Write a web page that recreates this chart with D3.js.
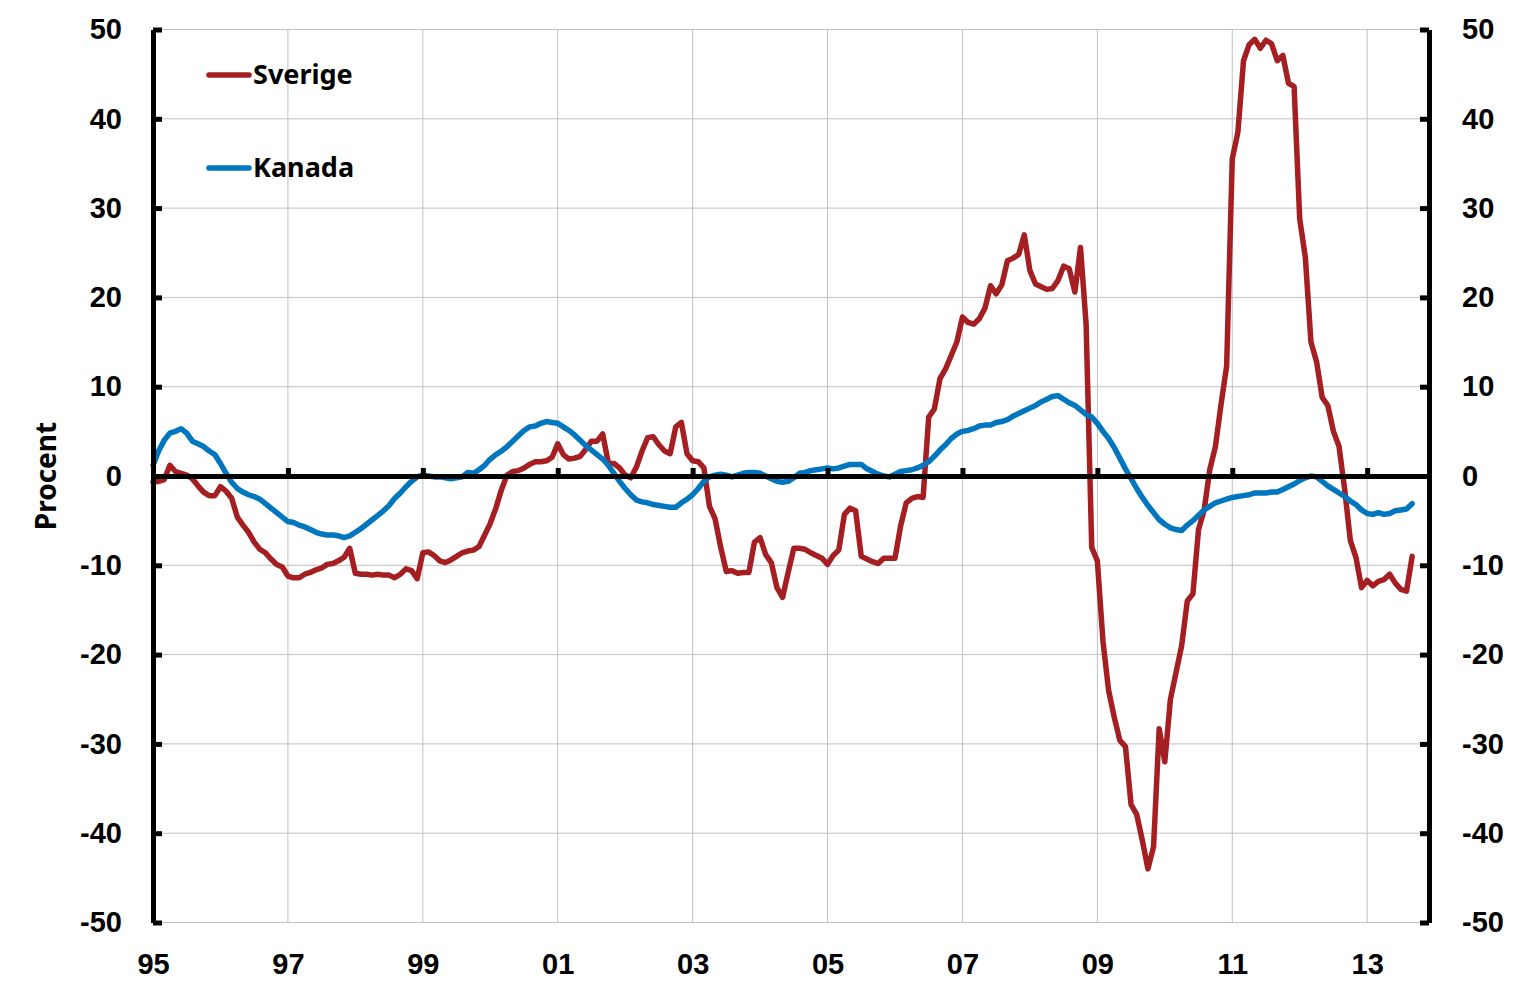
<!doctype html>
<html lang="sv">
<head>
    <meta charset="UTF-8">
    <title>Sverige och Kanada</title>
    <style>
        body { margin: 0; background: #fff; }
        svg { display: block; font-family: "Noto Sans", "Open Sans", sans-serif; font-weight: bold; }
        .grid line { stroke: #c0c0c0; stroke-width: 1px; }
        .axis path, .axis line { stroke: #000; }
        .axis text { font-size: 29px; font-weight: bold; fill: #000; }
    </style>
</head>
<body>
    <svg width="1527" height="998"></svg>
    <script src="https://cdn.jsdelivr.net/npm/d3@7"></script>
    <script>
        // månadsdata, jan 1995 - sep 2013
        const startYear = 1995;
        const totalMonths = 227;   // axeln går till nov 2013

        const sverige = [
            -0.7, -0.6, -0.4, 1.2, 0.5, 0.3, 0.1, -0.3, -1.1, -1.8, -2.2, -2.2,
            -1.2, -1.7, -2.5, -4.6, -5.5, -6.3, -7.4, -8.2, -8.6, -9.3, -9.9, -10.2,
            -11.2, -11.4, -11.4, -11.0, -10.8, -10.5, -10.3, -9.9, -9.8, -9.5, -9.1, -8.1,
            -10.9, -11.0, -11.0, -11.1, -11.0, -11.1, -11.1, -11.4, -11.0, -10.4, -10.6, -11.5,
            -8.6, -8.5, -8.9, -9.5, -9.7, -9.4, -9.0, -8.6, -8.4, -8.3, -7.9, -6.6,
            -5.3, -3.6, -1.5, 0.1, 0.5, 0.6, 0.9, 1.3, 1.6, 1.6, 1.7, 2.1,
            3.6, 2.4, 1.9, 2.0, 2.2, 3.0, 3.9, 3.9, 4.7, 1.5, 1.4, 0.9,
            0.1, -0.2, 1.0, 2.8, 4.3, 4.4, 3.5, 2.8, 2.5, 5.5, 6.0, 2.5,
            1.7, 1.6, 0.9, -3.4, -4.8, -8.0, -10.7, -10.6, -10.9, -10.8, -10.8, -7.4,
            -6.9, -8.8, -9.7, -12.5, -13.6, -10.8, -8.1, -8.1, -8.2, -8.6, -8.9, -9.2,
            -9.9, -8.9, -8.3, -4.3, -3.6, -3.9, -9.0, -9.3, -9.6, -9.8, -9.2, -9.2,
            -9.2, -5.6, -3.0, -2.5, -2.3, -2.4, 6.6, 7.5, 10.9, 12.0, 13.5, 15.0,
            17.8, 17.2, 17.0, 17.6, 18.8, 21.3, 20.4, 21.4, 24.1, 24.4, 24.8, 27.0,
            23.0, 21.5, 21.2, 20.9, 21.0, 21.9, 23.5, 23.2, 20.6, 25.6, 17.0, -8.0,
            -9.5, -18.5, -24.0, -27.0, -29.6, -30.3, -36.8, -37.9, -40.8, -44.0, -41.5, -28.3,
            -32.0, -25.0, -22.0, -19.0, -14.0, -13.2, -6.0, -3.8, 0.7, 3.3, 8.0, 12.3,
            35.5, 38.5, 46.5, 48.3, 48.9, 47.9, 48.8, 48.4, 46.5, 47.1, 44.0, 43.6,
            28.8, 24.5, 15.0, 12.8, 8.8, 7.9, 5.0, 3.3, -1.5, -7.2, -9.1, -12.5,
            -11.7, -12.3, -11.8, -11.6, -11.0, -12.0, -12.7, -12.9, -9.0
        ];

        const kanada = [
            1.2, 2.8, 4.0, 4.8, 5.0, 5.3, 4.8, 3.9, 3.6, 3.3, 2.8, 2.4,
            1.4, 0.3, -0.7, -1.4, -1.8, -2.1, -2.3, -2.6, -3.1, -3.6, -4.1, -4.6,
            -5.1, -5.2, -5.5, -5.7, -6.0, -6.3, -6.5, -6.6, -6.6, -6.7, -6.9, -6.7,
            -6.3, -5.9, -5.4, -4.9, -4.4, -3.9, -3.3, -2.5, -1.9, -1.2, -0.6, -0.1,
            0.1, 0.0, -0.1, -0.1, -0.2, -0.3, -0.2, -0.1, 0.4, 0.3, 0.7, 1.2,
            1.9, 2.4, 2.8, 3.3, 3.9, 4.5, 5.1, 5.5, 5.6, 5.9, 6.1, 6.0,
            5.9, 5.5, 5.1, 4.6, 4.0, 3.4, 2.9, 2.4, 1.9, 1.2, 0.3, -0.6,
            -1.4, -2.1, -2.7, -2.9, -3.0, -3.2, -3.3, -3.4, -3.5, -3.5, -3.0, -2.6,
            -2.1, -1.4, -0.6, -0.1, 0.1, 0.2, 0.1, -0.1, 0.1, 0.3, 0.4, 0.4,
            0.3, 0.0, -0.3, -0.6, -0.7, -0.6, -0.2, 0.3, 0.4, 0.6, 0.7, 0.8,
            0.9, 0.8, 0.9, 1.1, 1.3, 1.3, 1.3, 0.8, 0.5, 0.2, 0.0, -0.1,
            0.2, 0.5, 0.6, 0.7, 0.9, 1.2, 1.6, 2.2, 2.9, 3.5, 4.2, 4.7,
            5.0, 5.1, 5.3, 5.6, 5.7, 5.7, 6.0, 6.1, 6.3, 6.7, 7.0, 7.3,
            7.6, 7.9, 8.3, 8.6, 8.9, 9.0, 8.6, 8.2, 7.9, 7.4, 6.9, 6.6,
            5.9, 5.0, 4.2, 3.2, 2.0, 0.8, -0.3, -1.4, -2.4, -3.3, -4.1, -4.9,
            -5.4, -5.8, -6.0, -6.1, -5.5, -5.0, -4.4, -3.8, -3.4, -3.0, -2.8, -2.6,
            -2.4, -2.3, -2.2, -2.1, -1.9, -1.9, -1.9, -1.8, -1.8, -1.5, -1.2, -0.9,
            -0.5, -0.2, 0.0, -0.1, -0.6, -1.1, -1.5, -1.9, -2.3, -2.8, -3.2, -3.8,
            -4.2, -4.3, -4.1, -4.3, -4.2, -3.9, -3.8, -3.7, -3.1
        ];

        const xTickLabels = ["95", "97", "99", "01", "03", "05", "07", "09", "11", "13"];
        const yTicks = [-50, -40, -30, -20, -10, 0, 10, 20, 30, 40, 50];
        const seriesNames = ["Sverige", "Kanada"];
        const seriesColors = ["#a51e22", "#0076bf"];

        const svg = d3.select('svg'),
            plotLeft = 153, plotRight = 1429, plotTop = 29.5, plotBottom = 922.5;

        const x = d3.scaleLinear().domain([0, totalMonths]).range([plotLeft, plotRight]);
        const y = d3.scaleLinear().domain([-50, 50]).range([plotBottom, plotTop]);
        const tickMonths = xTickLabels.map((d, i) => i * 24);

        // rutnät
        const grid = svg.append("g").attr("class", "grid");
        grid.selectAll(".h").data(yTicks).enter().append("line")
            .attr("x1", plotLeft).attr("x2", plotRight)
            .attr("y1", d => y(d)).attr("y2", d => y(d));
        grid.selectAll(".v").data(tickMonths.slice(1)).enter().append("line")
            .attr("x1", d => x(d)).attr("x2", d => x(d))
            .attr("y1", plotTop).attr("y2", plotBottom);

        // linjer
        const line = d3.line().x((d, i) => x(i)).y(d => y(d));
        [sverige, kanada].forEach((data, k) => {
            svg.append("path")
                .datum(data)
                .attr("fill", "none")
                .attr("stroke", seriesColors[k])
                .attr("stroke-width", 5.5)
                .attr("stroke-linejoin", "round")
                .attr("stroke-linecap", "round")
                .attr("d", line);
        });

        // nollinje med streck uppåt
        const zeroAxis = svg.append("g").attr("class", "axis")
            .attr("transform", "translate(0," + y(0) + ")")
            .call(d3.axisTop(x).tickValues(tickMonths).tickSizeInner(8).tickSizeOuter(0).tickFormat(""));
        zeroAxis.select(".domain").attr("stroke-width", 5);
        zeroAxis.selectAll(".tick line").attr("stroke-width", 5);

        // x-etiketter nedtill
        const xAxis = svg.append("g").attr("class", "axis")
            .attr("transform", "translate(0," + plotBottom + ")")
            .call(d3.axisBottom(x).tickValues(tickMonths).tickSize(0).tickPadding(31)
                .tickFormat((d, i) => xTickLabels[i]));
        xAxis.select(".domain").remove();

        // y-axlar
        const yFmt = d => String(d);
        const yLeft = svg.append("g").attr("class", "axis")
            .attr("transform", "translate(" + plotLeft + ",0)")
            .call(d3.axisLeft(y).tickValues(yTicks).tickSizeInner(-9).tickSizeOuter(0).tickPadding(31).tickFormat(yFmt));
        const yRight = svg.append("g").attr("class", "axis")
            .attr("transform", "translate(" + plotRight + ",0)")
            .call(d3.axisRight(y).tickValues(yTicks).tickSizeInner(-9).tickSizeOuter(0).tickPadding(33).tickFormat(yFmt));
        [yLeft, yRight].forEach(g => {
            g.select(".domain").attr("stroke-width", 5);
            g.selectAll(".tick line").attr("stroke-width", 5);
        });

        svg.append("text")
            .attr("transform", "translate(46," + y(0) + ") rotate(-90)")
            .attr("text-anchor", "middle")
            .attr("dy", "0.35em")
            .style("font-size", "28px")
            .text("Procent");

        // förklaring
        const legend = svg.append("g");
        seriesNames.forEach((name, k) => {
            const ly = 75 + k * 93;
            legend.append("line")
                .attr("x1", 209).attr("x2", 249)
                .attr("y1", ly).attr("y2", ly)
                .attr("stroke", seriesColors[k])
                .attr("stroke-width", 5.5)
                .attr("stroke-linecap", "round");
            legend.append("text")
                .attr("x", 253).attr("y", ly)
                .attr("dy", "0.35em")
                .style("font-size", "27px")
                .text(name);
        });
    </script>
</body>
</html>
